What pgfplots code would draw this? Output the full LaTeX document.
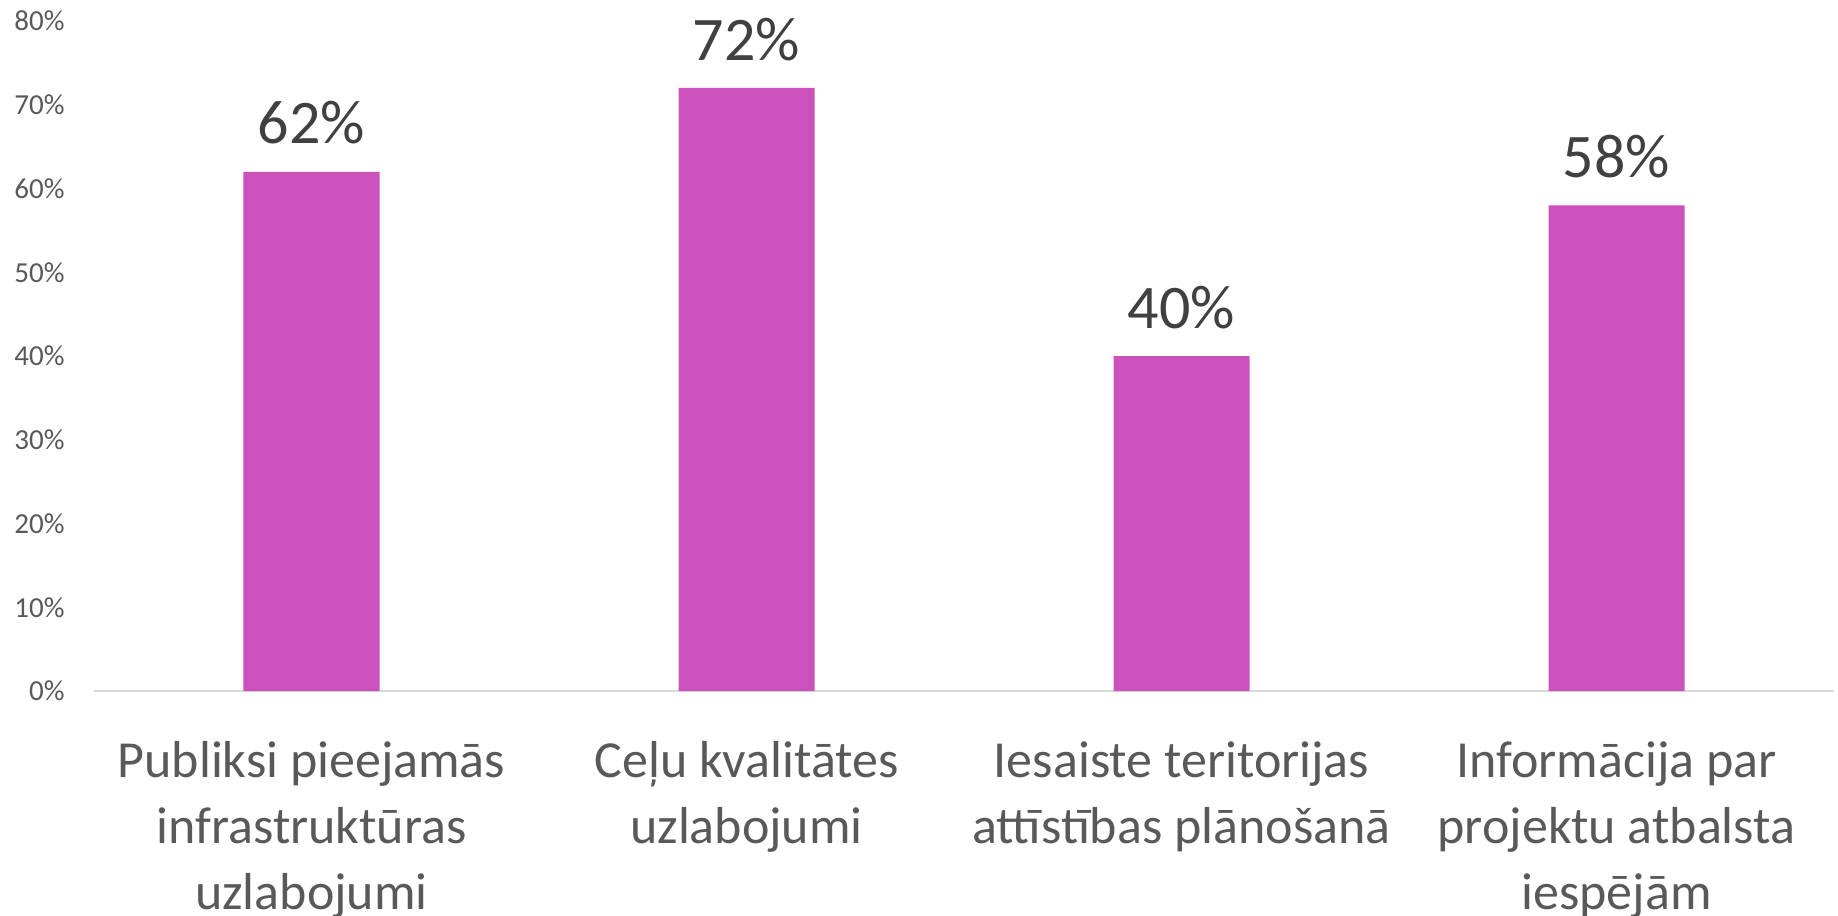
\documentclass[border=0pt]{standalone}
\usepackage{fontspec}
\setmainfont{Carlito}[Contextuals=NoAlternate]
\usepackage{pgfplots}
\pgfplotsset{compat=1.18}
\definecolor{barpink}{HTML}{CB52BB}
\definecolor{ticktext}{HTML}{595959}
\definecolor{labeltext}{HTML}{404040}
\definecolor{baseline}{HTML}{D9D9D9}
\begin{document}
\begin{tikzpicture}
\begin{axis}[
    scale only axis,
    width=870pt, height=335pt,
    xmin=-0.5, xmax=3.5,
    ymin=0, ymax=80,
    enlargelimits=false,
    axis lines=left,
    axis line style={-},
    y axis line style={draw=none},
    x axis line style={draw=baseline, line width=1pt},
    major tick length=0pt,
    ytick={0,10,...,80},
    yticklabels={0\%,10\%,20\%,30\%,40\%,50\%,60\%,70\%,80\%},
    yticklabel style={anchor=east, inner sep=0pt, xshift=-14.5pt,
        font=\fontsize{14.5}{17}\selectfont, text=ticktext},
    xtick={0,1,2,3},
    xticklabels={
        {Publiksi pieejamās\\[1.5pt]infrastruktūras\\[1.5pt]uzlabojumi},
        {Ceļu kvalitātes\\[1.5pt]uzlabojumi},
        {Iesaiste teritorijas\\[1.5pt]at{}tīstības plānošanā},
        {Informācija par\\[1.5pt]projektu atbalsta\\[1.5pt]iespējām}},
    xticklabel style={anchor=north, align=center, inner sep=0pt, yshift=-25pt,
        font=\fontsize{26}{31.5}\selectfont, text=ticktext},
    /pgf/number format/assume math mode=true,
    nodes near coords={\pgfmathprintnumber{\pgfplotspointmeta}\%},
    every node near coord/.append style={font=\fontsize{31}{37}\selectfont,
        text=labeltext, inner sep=0pt, yshift=13.5pt},
]
\addplot[ybar, bar width=68pt, fill=barpink, draw=none]
    coordinates {(0,62) (1,72) (2,40) (3,58)};
\coordinate (o) at (axis cs:-0.5,0);
\end{axis}
\pgfresetboundingbox
\path (o) ++(-47pt,-112.5pt) rectangle ++(919pt,458pt);
\end{tikzpicture}
\end{document}
